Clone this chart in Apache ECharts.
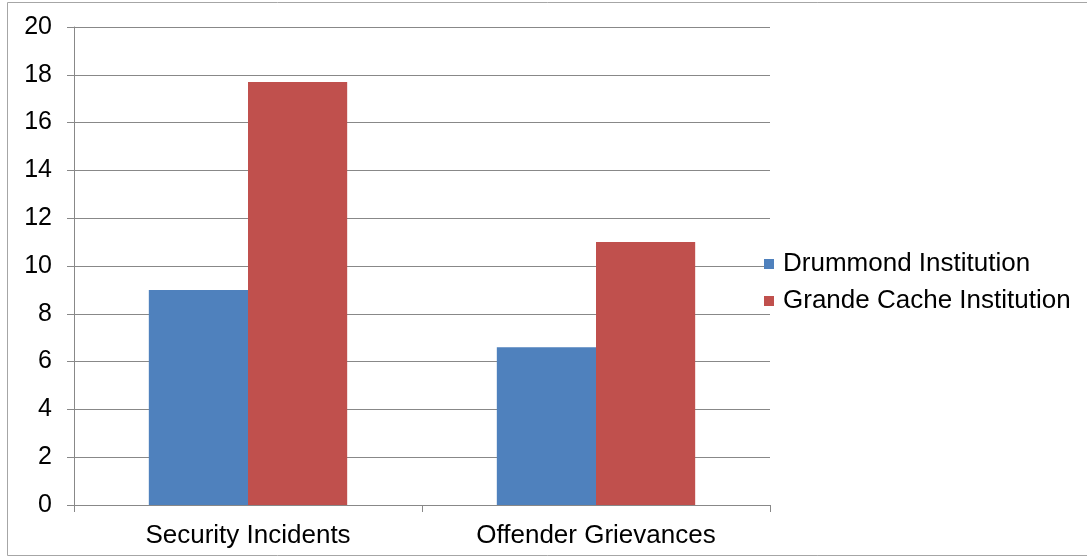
<!DOCTYPE html>
<html>
<head>
<meta charset="utf-8">
<script src="https://cdn.jsdelivr.net/npm/echarts@6/dist/echarts.min.js"></script>
<style>
  html, body { margin: 0; padding: 0; background: #fff; }
  #chart { width: 1087px; height: 558px; }
</style>
</head>
<body>
<div id="chart"></div>
<script>
const categories = ['Security Incidents', 'Offender Grievances'];
const drummond = [9.0, 6.6];
const grandeCache = [17.7, 11.0];
const seriesNames = ['Drummond Institution', 'Grande Cache Institution'];

const chart = echarts.init(document.getElementById('chart'));

const axisGrey = '#888888';
const font = 'Liberation Sans, Arial, sans-serif';

const option = {
  animation: false,
  textStyle: { fontFamily: font },
  graphic: [
    {
      type: 'rect',
      shape: { x: 7.5, y: 2.5, width: 1090, height: 553 },
      style: { fill: 'none', stroke: '#a6a6a6', lineWidth: 1 },
      silent: true
    }
  ],
  grid: {
    left: 74,
    right: 317,
    top: 27,
    bottom: 53
  },
  legend: {
    orient: 'vertical',
    left: 759,
    top: 246,
    itemWidth: 10,
    itemHeight: 10,
    itemGap: 11,
    icon: 'rect',
    data: seriesNames,
    textStyle: {
      fontFamily: font,
      fontSize: 26,
      color: '#000',
      padding: [0, 0, 0, 4]
    }
  },
  xAxis: {
    type: 'category',
    data: categories,
    axisLine: { lineStyle: { color: axisGrey, width: 1 } },
    axisTick: { show: true, length: 7, lineStyle: { color: axisGrey } },
    axisLabel: {
      fontFamily: font,
      fontSize: 26,
      color: '#000',
      margin: 18
    },
    splitLine: { show: false }
  },
  yAxis: {
    type: 'value',
    min: 0,
    max: 20,
    interval: 2,
    axisLine: { show: true, lineStyle: { color: axisGrey, width: 1 } },
    axisTick: { show: true, length: 7, lineStyle: { color: axisGrey } },
    axisLabel: {
      fontFamily: font,
      fontSize: 25,
      color: '#000',
      margin: 22
    },
    splitLine: { show: true, lineStyle: { color: axisGrey, width: 1 } }
  },
  series: [
    {
      name: seriesNames[0],
      type: 'bar',
      data: drummond,
      barGap: '0%',
      barCategoryGap: '43%',
      itemStyle: { color: '#4f81bd' }
    },
    {
      name: seriesNames[1],
      type: 'bar',
      data: grandeCache,
      barGap: '0%',
      barCategoryGap: '43%',
      itemStyle: { color: '#c0504d' }
    }
  ]
};

chart.setOption(option);
</script>
</body>
</html>
